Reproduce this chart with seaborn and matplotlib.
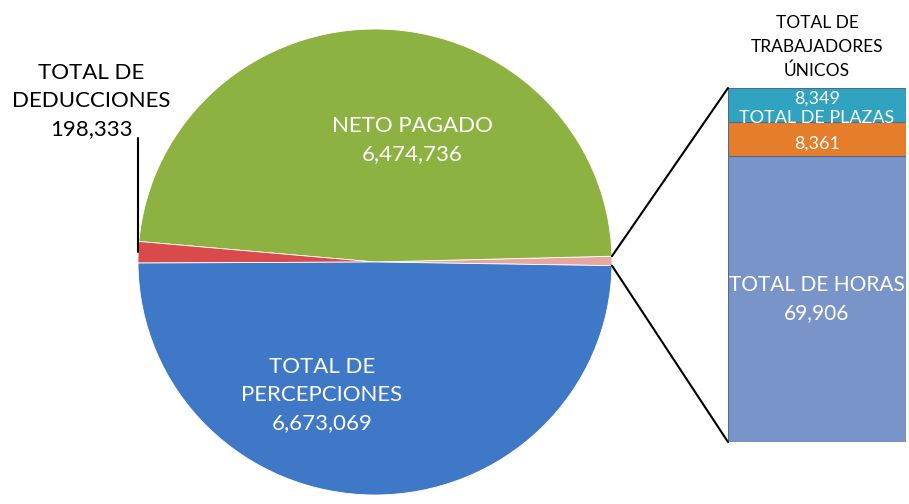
import numpy as np
import matplotlib
matplotlib.use("Agg")
import matplotlib.pyplot as plt
import seaborn as sns
from matplotlib.patches import ConnectionPatch

# %% data
pie_names = ["NETO PAGADO", "TOTAL DE\nDEDUCCIONES", "TOTAL DE\nPERCEPCIONES"]
pie_values = [6474736, 198333, 6673069]
bar_names = ["TOTAL DE HORAS", "TOTAL DE PLAZAS", "TOTAL DE\nTRABAJADORES\nÚNICOS"]
bar_values = [69906, 8361, 8349]

# %% style
sns.set_theme(style="white")
plt.rcParams["font.family"] = ["Lato", "DejaVu Sans"]

pie_colors = ["#e8a6a2", "#8db241", "#d94a4a", "#3f78c6"]
bar_colors = ["#7894c8", "#e57d2b", "#2fa3bf"]

fig = plt.figure(figsize=(9.09, 5.04), dpi=100)
W, H = 909, 504

def px_axes(l, t, r, b):
    return fig.add_axes([l / W, 1 - b / H, (r - l) / W, (b - t) / H])

# %% pie (other slice = sum of bar values)
ax = px_axes(138, 29, 612, 495)
vals = [sum(bar_values)] + pie_values
wedges, _ = ax.pie(vals, colors=pie_colors, startangle=-0.9, counterclock=True,
                   wedgeprops=dict(edgecolor="white", linewidth=0.6))
ax.set_aspect("auto")
ax.set_xlim(-1, 1)
ax.set_ylim(-1, 1)
ax.axis("off")

def to_xy(px, py):
    return (px - 375) / 237, (262 - py) / 233

ax.text(*to_xy(412, 140), f"{pie_names[0]}\n{pie_values[0]:,}", color="white",
        ha="center", va="center", fontsize=16, linespacing=1.5)
ax.text(*to_xy(322, 395), f"{pie_names[2]}\n{pie_values[2]:,}", color="white",
        ha="center", va="center", fontsize=16, linespacing=1.5)

# deductions label with leader line
red = wedges[2]
ang = np.deg2rad((red.theta1 + red.theta2) / 2)
ex, ey = np.cos(ang), np.sin(ang)
lx, ly = to_xy(138, 138)
ax.plot([ex, ex], [ey, ly], color="black", lw=1.5, clip_on=False)
ax.text(*to_xy(91, 101), f"{pie_names[1]}\n{pie_values[1]:,}", color="black",
        ha="center", va="center", fontsize=16, linespacing=1.5, clip_on=False)

# %% stacked bar
bx = px_axes(728, 88, 906, 442)
bottom = 0
for v, c in zip(bar_values, bar_colors):
    bx.bar([0], [v], bottom=bottom, width=1, color=c, edgecolor="#56698a", linewidth=0.8)
    bottom += v
total = sum(bar_values)
bx.set_xlim(-0.5, 0.5)
bx.set_ylim(0, total)
bx.axis("off")

bx.text(0, bar_values[0] / 2, f"{bar_names[0]}\n{bar_values[0]:,}", color="white",
        ha="center", va="center", fontsize=15, linespacing=1.55)
bx.text(0, 79300, bar_names[1], color="white", ha="center", va="center", fontsize=13)
bx.text(0, 73000, f"{bar_values[1]:,}", color="white", ha="center", va="center", fontsize=13)
bx.text(0, 83900, f"{bar_values[2]:,}", color="white", ha="center", va="center", fontsize=13)
bx.text(0, total + 10000, bar_names[2], color="black", ha="center", va="center",
        fontsize=12.5, linespacing=1.6, clip_on=False)

# %% connector lines
pink = wedges[0]
for th, yb in [(pink.theta2, total), (pink.theta1, 0)]:
    a = np.deg2rad(th)
    con = ConnectionPatch(xyA=(np.cos(a), np.sin(a)), coordsA=ax.transData,
                          xyB=(-0.5, yb), coordsB=bx.transData,
                          color="black", lw=1.5)
    fig.add_artist(con)

fig.savefig("out.png", dpi=100)
